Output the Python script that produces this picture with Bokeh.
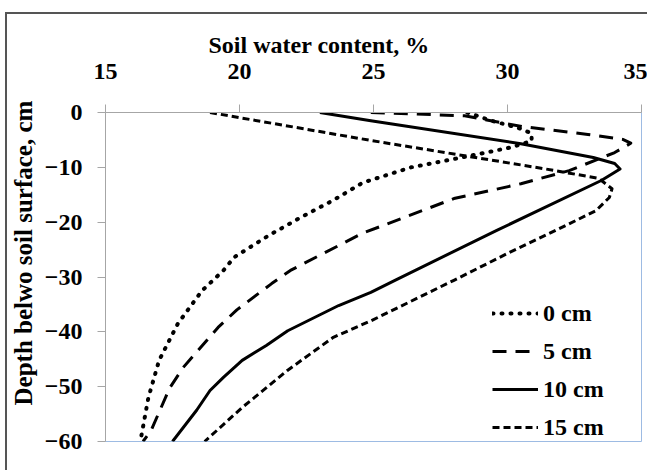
from bokeh.plotting import figure
from bokeh.models import Legend, LegendItem, Title
from bokeh.embed import file_html
from bokeh.resources import INLINE

# ---- data ----
x_ticks = [15, 20, 25, 30, 35]
y_ticks = [0, -10, -20, -30, -40, -50, -60]

labels = ["0 cm", "5 cm", "10 cm", "15 cm"]

wc_0 = [28.5, 29.4, 30.4, 30.9, 30.9, 30.1, 28.3, 26.4, 24.6, 23.5, 22.3, 21.1, 19.8, 19.4, 18.6, 17.7, 17.0, 16.6, 16.3]
depth_0 = [0, -1.5, -2.8, -3.8, -5.2, -6.4, -8.2, -10, -12.8, -16, -19.1, -22.4, -26.4, -28.8, -32.5, -38.5, -45.2, -52, -60]

wc_5 = [24.9, 28.4, 30.6, 33.0, 34.3, 34.6, 34.0, 32.3, 30.5, 28.0, 24.6, 21.9, 21.2, 19.9, 19.2, 17.9, 17.4, 16.7, 16.4]
depth_5 = [0, -0.6, -2.6, -4.0, -4.9, -5.6, -7.3, -10.6, -13, -15.7, -22, -28.8, -31.2, -36, -39.2, -46.5, -50.2, -58, -60]

wc_10 = [23.0, 24.9, 30.5, 33.2, 34.0, 34.2, 33.5, 29.6, 25.8, 24.9, 23.7, 21.8, 21.0, 20.1, 19.4, 18.9, 18.4, 17.5]
depth_10 = [0, -1.5, -5.7, -8.2, -9.3, -10.3, -12.4, -21.5, -30.6, -32.8, -35.2, -39.8, -42.5, -45.2, -48.3, -50.7, -54.3, -60]

wc_15 = [18.9, 24.9, 31.3, 33.4, 33.9, 33.8, 33.3, 31.8, 30.0, 28.0, 24.9, 23.5, 21.8, 20.1, 18.7]
depth_15 = [0, -5.1, -10.2, -12, -13.9, -15.5, -17.9, -21.5, -25.7, -30.6, -38, -41, -47, -53.8, -60]

FONT = "Liberation Serif"

p = figure(width=647, height=470, x_range=(15, 35), y_range=(-60, 0),
           x_axis_location="above", output_backend="svg", toolbar_location=None,
           min_border_left=105, min_border_top=112, min_border_right=6, min_border_bottom=29,
           background_fill_color="white", border_fill_color=None,
           styles={
               "background-color": "white",
               "background-image": "linear-gradient(#555555, #555555), linear-gradient(#555555, #555555)",
               "background-position": "5px 12px, 5px 12px",
               "background-size": "2px 460px, 642px 2px",
               "background-repeat": "no-repeat, no-repeat",
           })

p.xgrid.visible = False
p.ygrid.visible = False
p.outline_line_color = "#9dbbe3"
p.outline_line_width = 1

# title acting as x-axis label
p.title.text = "Soil water content, %"
p.title.align = "left"
p.title.offset = 103
p.title.standoff = 6
p.title.text_font = FONT
p.title.text_font_size = "24px"
p.title.text_font_style = "bold"
p.title.text_color = "black"

for ax in (p.xaxis[0], p.yaxis[0]):
    ax.axis_line_color = "#a6a6a6"
    ax.major_tick_line_color = "#a6a6a6"
    ax.minor_tick_line_color = None
    ax.major_tick_out = 8
    ax.major_tick_in = 0
    ax.major_label_text_font = FONT
    ax.major_label_text_font_size = "24px"
    ax.major_label_text_font_style = "bold"
    ax.major_label_text_color = "black"

p.xaxis.ticker = x_ticks
p.yaxis.ticker = y_ticks
p.xaxis.major_label_standoff = 26
p.yaxis.major_label_standoff = 15

ytitle = Title(text="Depth belwo soil surface, cm", align="left", offset=36,
               text_font=FONT, text_font_size="25px", text_font_style="bold",
               text_color="black", standoff=9)
p.add_layout(ytitle, "left")

r0 = p.line(wc_0, depth_0, line_color="black", line_width=4, line_dash="1 8", line_cap="round", line_join="round")
r5 = p.line(wc_5, depth_5, line_color="black", line_width=3, line_dash="14 9", line_join="round")
r10 = p.line(wc_10, depth_10, line_color="black", line_width=3, line_join="round")
r15 = p.line(wc_15, depth_15, line_color="black", line_width=3, line_dash="7 4", line_join="round")

legend = Legend(items=[LegendItem(label=labels[0], renderers=[r0]),
                       LegendItem(label=labels[1], renderers=[r5]),
                       LegendItem(label=labels[2], renderers=[r10]),
                       LegendItem(label=labels[3], renderers=[r15])],
                location=(387, 0), padding=0, margin=0, spacing=10,
                glyph_width=46, glyph_height=28, label_height=28, label_standoff=5,
                border_line_color=None, background_fill_alpha=0,
                label_text_font=FONT, label_text_font_size="24px",
                label_text_font_style="bold", label_text_color="black")
p.add_layout(legend, "center")

open("out.html", "w").write(file_html(p, INLINE))
